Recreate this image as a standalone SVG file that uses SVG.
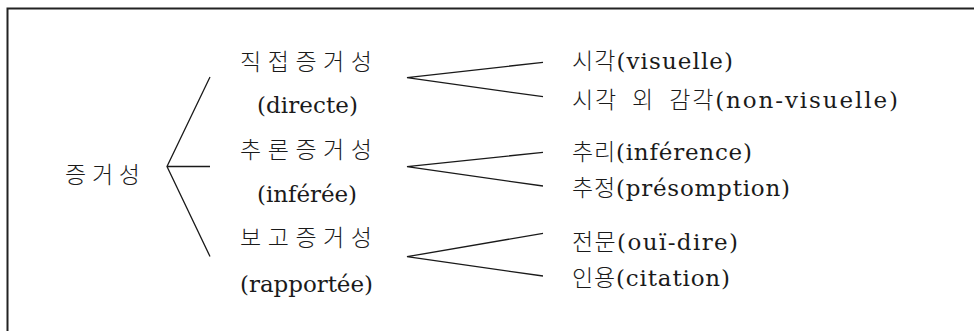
<svg xmlns="http://www.w3.org/2000/svg" width="974" height="331" viewBox="0 0 974 331">
<style>
.t{font-family:'DejaVu Serif','Liberation Serif',serif;font-size:23px;fill:#1a1a1a}
.k{font-family:'Noto Sans CJK KR','Noto Sans CJK SC',sans-serif;font-size:23px;font-weight:300}
.ws{word-spacing:7px}
.ln{stroke:#1a1a1a;stroke-width:1.3;fill:none}
</style>
<rect width="974" height="331" fill="#fff"/>
<path d="M7.5,331 V8.5 H974" fill="none" stroke="#222" stroke-width="2"/>
<g id="connectors">
<path class="ln" d="M210,77 L167,166.5 L210,256.5 M167,166.5 H210"/>
<path class="ln" d="M543,62.3 L407,77.7 L543,96.7"/>
<path class="ln" d="M543,152.3 L407,166.7 L543,186"/>
<path class="ln" d="M543,233.3 L407,256.7 L543,276"/>
</g>
<g id="root"><text class="t" x="65" y="183" textLength="75" lengthAdjust="spacing"><tspan class="k">증거성</tspan></text></g>
<g id="direct">
<text class="t" x="240" y="70" textLength="132" lengthAdjust="spacing"><tspan class="k">직접증거성</tspan></text>
<text class="t" x="257" y="113" textLength="101" lengthAdjust="spacing">(directe)</text>
</g>
<g id="inferee">
<text class="t" x="240" y="158" textLength="132" lengthAdjust="spacing"><tspan class="k">추론증거성</tspan></text>
<text class="t" x="257" y="202" textLength="100" lengthAdjust="spacing">(inférée)</text>
</g>
<g id="rapportee">
<text class="t" x="240" y="246" textLength="132" lengthAdjust="spacing"><tspan class="k">보고증거성</tspan></text>
<text class="t" x="240" y="292" textLength="133" lengthAdjust="spacing">(rapportée)</text>
</g>
<g id="visuelle"><text class="t" x="572" y="69" textLength="161" lengthAdjust="spacing"><tspan class="k">시각</tspan>(visuelle)</text></g>
<g id="non-visuelle"><text class="t" x="572" y="108" textLength="326" lengthAdjust="spacing"><tspan class="k ws">시각 외 감각</tspan>(non-visuelle)</text></g>
<g id="inference"><text class="t" x="572" y="160" textLength="180" lengthAdjust="spacing"><tspan class="k">추리</tspan>(inférence)</text></g>
<g id="presomption"><text class="t" x="572" y="196" textLength="218" lengthAdjust="spacing"><tspan class="k">추정</tspan>(présomption)</text></g>
<g id="oui-dire"><text class="t" x="572" y="250" textLength="166" lengthAdjust="spacing"><tspan class="k">전문</tspan>(ouï-dire)</text></g>
<g id="citation"><text class="t" x="572" y="286" textLength="158" lengthAdjust="spacing"><tspan class="k">인용</tspan>(citation)</text></g>
</svg>
